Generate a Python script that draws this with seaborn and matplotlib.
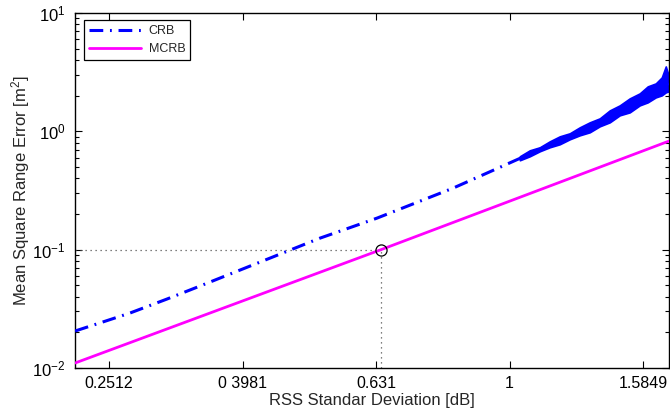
import matplotlib
matplotlib.use("Agg")
import matplotlib.pyplot as plt
from matplotlib.ticker import FixedLocator, FixedFormatter, NullLocator, LogLocator
import numpy as np
import pandas as pd
import seaborn as sns

# RSS standard deviation (linear scale of the dB value)
crb_sigma = [0.2234, 0.2434, 0.2700, 0.3067, 0.3437, 0.3683, 0.4227, 0.4688,
             0.5199, 0.5764, 0.6326, 0.7087, 0.8222, 0.9341, 1.0610, 1.1888,
             1.3050, 1.3883, 1.4622, 1.5398, 1.6049, 1.6667, 1.7306]
# Cramer-Rao bound on mean square range error [m^2]
crb_mse = [0.0205, 0.0240, 0.0291, 0.0382, 0.0492, 0.0575, 0.0784, 0.0990,
           0.1250, 0.1533, 0.1844, 0.2374, 0.3304, 0.4550, 0.6271, 0.8396,
           1.060, 1.287, 1.503, 1.757, 2.013, 2.262, 2.541]

# scatter of the CRB estimate at high deviation (lower / upper envelope)
spread_sigma = [1.0358, 1.0721, 1.1097, 1.1486, 1.1888, 1.2305, 1.2737, 1.3183,
                1.3646, 1.4125, 1.4620, 1.5133, 1.5664, 1.6102, 1.6554, 1.6900,
                1.7135, 1.7306]
spread_lo = [0.569, 0.615, 0.678, 0.733, 0.777, 0.856, 0.925, 0.981,
             1.102, 1.191, 1.365, 1.446, 1.657, 1.757, 1.936, 2.013,
             2.134, 2.176]
spread_hi = [0.615, 0.691, 0.733, 0.823, 0.907, 0.962, 1.081, 1.191,
             1.287, 1.503, 1.657, 1.899, 2.093, 2.398, 2.541, 2.856,
             3.536, 2.969]

# Modified Cramer-Rao bound
mcrb_sigma = [0.2234, 0.642, 1.7306]
mcrb_mse = [0.0110, 0.100, 0.825]

# highlighted operating point
ref_sigma = 0.642
ref_mse = 0.1

x_ticks = [0.2512, 0.3981, 0.631, 1.0, 1.5849]
x_ticklabels = ["0.2512", "0 3981", "0.631", "1", "1.5849"]
y_ticks = [1e-2, 1e-1, 1e0, 1e1]
y_ticklabels = [r"$10^{-2}$", r"$10^{-1}$", r"$10^{0}$", r"$10^{1}$"]

sns.set_theme(style="ticks")
plt.rcParams["font.family"] = ["Liberation Sans", "DejaVu Sans"]
plt.rcParams["mathtext.fontset"] = "custom"
plt.rcParams["mathtext.rm"] = "Liberation Sans"
plt.rcParams["mathtext.it"] = "Liberation Sans:italic"

fig = plt.figure(figsize=(6.7, 4.2), dpi=100)
ax = fig.add_axes([0.112, 0.124, 0.886, 0.845])
ax.set_xscale("log")
ax.set_yscale("log")

crb = pd.DataFrame({"sigma": crb_sigma, "mse": crb_mse})
mcrb = pd.DataFrame({"sigma": mcrb_sigma, "mse": mcrb_mse})

ax.fill_between(spread_sigma, spread_lo, spread_hi, color="#0000ff", linewidth=1.2,
                edgecolor="#0000ff", zorder=2)
sns.lineplot(data=crb, x="sigma", y="mse", ax=ax, color="#0000ff", linewidth=2.2,
             linestyle=(0, (4.5, 2.2, 0.6, 2.2)), sort=False, estimator=None,
             label="CRB", zorder=3)
sns.lineplot(data=mcrb, x="sigma", y="mse", ax=ax, color="#ff00ff", linewidth=2.0,
             sort=False, estimator=None, label="MCRB", zorder=3)

# guide lines to the operating point
ax.plot([crb_sigma[0], ref_sigma], [ref_mse, ref_mse], linestyle=(0, (1, 3)),
        color="#555555", linewidth=0.9, zorder=1)
ax.plot([ref_sigma, ref_sigma], [1e-2, ref_mse], linestyle=(0, (1, 3)),
        color="#555555", linewidth=0.9, zorder=1)
ax.plot([ref_sigma], [ref_mse], marker="o", markersize=8, markerfacecolor="none",
        markeredgecolor="black", markeredgewidth=0.9, linestyle="none", zorder=4)

ax.set_xlim(0.2234, 1.7306)
ax.set_ylim(1e-2, 1e1)

ax.xaxis.set_major_locator(FixedLocator(x_ticks))
ax.xaxis.set_major_formatter(FixedFormatter(x_ticklabels))
ax.xaxis.set_minor_locator(NullLocator())
ax.yaxis.set_major_locator(FixedLocator(y_ticks))
ax.yaxis.set_major_formatter(FixedFormatter(y_ticklabels))
ax.yaxis.set_minor_locator(LogLocator(base=10, subs=np.arange(2, 10)))

ax.tick_params(which="both", direction="in", top=True, right=True, colors="black",
               width=0.8)
ax.tick_params(which="major", length=5)
ax.tick_params(which="minor", length=3)
ax.tick_params(axis="x", labelsize=11.5, pad=6)
ax.tick_params(axis="y", labelsize=12, pad=7)
for s in ax.spines.values():
    s.set_linewidth(1.0)
    s.set_color("black")

ax.set_xlabel("RSS Standar Deviation [dB]", fontsize=12, labelpad=1)
ax.set_ylabel("Mean Square Range Error [m$^2$]", fontsize=12)
ax.yaxis.set_label_coords(-0.072, 0.5)

leg = ax.legend(loc="upper left", bbox_to_anchor=(0.008, 0.99), fontsize=9,
                frameon=True, fancybox=False, handlelength=4.2, borderpad=0.4,
                labelspacing=0.45, handletextpad=0.6, borderaxespad=0.3)
leg.get_frame().set_edgecolor("black")
leg.get_frame().set_linewidth(0.9)
leg.get_frame().set_alpha(1)

fig.savefig("out.png", dpi=100)
